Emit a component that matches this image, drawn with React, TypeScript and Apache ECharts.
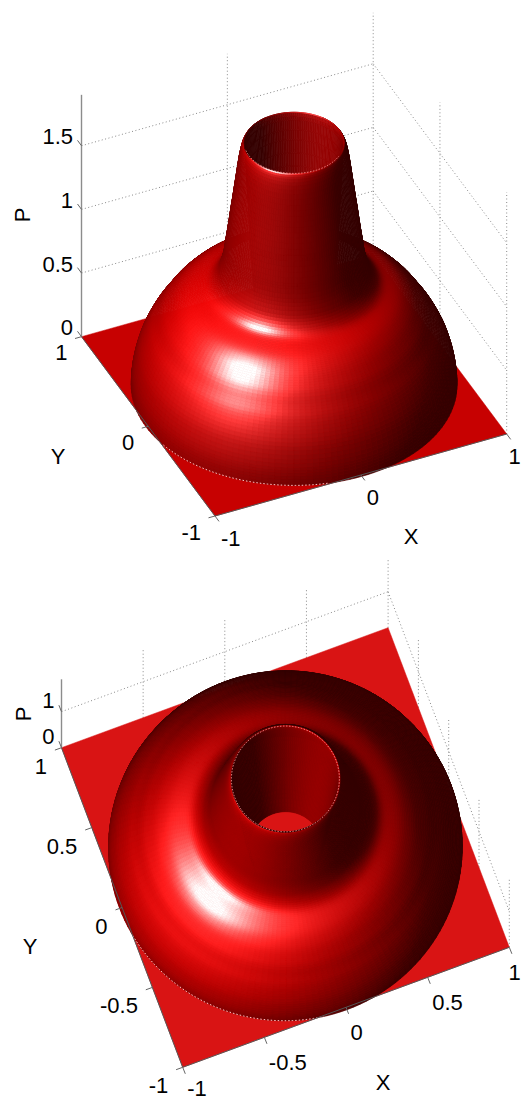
import React, { useEffect, useRef } from "react";
import * as echarts from "echarts";

// Radial profile of the surface: outer foot -> rim -> inner floor
const profileR = [1.015,1.014,1.01,1.005,0.995,0.98,0.965,0.945,0.925,0.905,0.885,0.865,0.845,0.82,0.8,0.78,0.76,0.74,0.72,0.7,0.68,0.66,0.64,0.62,0.6,0.58,0.56,0.54,0.52,0.5,0.48,0.465,0.45,0.44,0.43,0.426,0.415,0.405,0.395,0.384,0.375,0.365,0.355,0.345,0.335,0.325,0.315,0.31,0.305,0.297,0.288,0.278,0.268,0.258,0.247,0.237,0.227,0.215,0.21];
const profileZ = [0,0.05,0.095,0.135,0.19,0.25,0.3,0.35,0.395,0.435,0.47,0.5,0.535,0.575,0.6,0.625,0.648,0.67,0.688,0.705,0.72,0.733,0.744,0.754,0.763,0.772,0.781,0.793,0.81,0.835,0.87,0.91,0.97,1.02,1.09,1.13,1.21,1.29,1.375,1.456,1.53,1.61,1.69,1.77,1.83,1.875,1.9,1.905,1.85,1.7,1.5,1.3,1.1,0.9,0.7,0.5,0.3,0.1,0];

const topXTicks = [-1, 0, 1];
const topYTicks = [-1, 0, 1];
const topZTicks = [0, 0.5, 1, 1.5];
const bottomXTicks = [-1, -0.5, 0, 0.5, 1];
const bottomYTicks = [-1, -0.5, 0, 0.5, 1];
const bottomZTicks = [0, 1];
const axisNames = ["X", "Y", "P"];
const zTop = 1.9;

type V3 = [number, number, number];
interface View {
  front: [number, number]; right: [number, number]; left: [number, number];
  zUnit: number; az: number; el: number;
  xTicks: number[]; yTicks: number[]; zTicks: number[];
  xOff: [number, number]; yOff: [number, number]; zOff: [number, number];
  xName: [number, number]; yName: [number, number]; zName: [number, number];
  seam: [number, number]; seamRim: [number, number];
  tickX: [number, number]; tickY: [number, number]; tickZ: [number, number];
}

const views: View[] = [
  {
    front: [215, 516], right: [506.7, 434], left: [81.5, 336.7], zUnit: 127.3, az: -24.6, el: 38.8,
    xTicks: topXTicks, yTicks: topYTicks, zTicks: topZTicks,
    xOff: [6, 22.5], yOff: [-14, 16], zOff: [-8.5, -9],
    xName: [411, 536], yName: [58, 456], zName: [22, 215],
    seam: [192, 259], seamRim: [170, 310],
    tickX: [4, 5.4], tickY: [-6.5, 1.8], tickZ: [-4, -5.4],
  },
  {
    front: [182.7, 1067.3], right: [509.3, 947.3], left: [61.5, 747.7], zUnit: 36, az: -20.5, el: 77.6,
    xTicks: bottomXTicks, yTicks: bottomYTicks, zTicks: bottomZTicks,
    xOff: [4.5, 25], yOff: [-14.5, 18.5], zOff: [-7, -11.7],
    xName: [383, 1082], yName: [30, 946], zName: [23, 714],
    seam: [190, 262], seamRim: [0, 360],
    tickX: [2.6, 6.5], tickY: [-6.6, 2.4], tickZ: [-2.6, -6.5],
  },
];

const LIGHT: V3 = [-0.72, -0.2, 0.66];
const LIGHT2: V3 = [-0.42, -0.22, 0.88];
const STEPS = 160;
const SUB = 2;
const FONT = '22px "Liberation Sans", Arial, sans-serif';

const norm = (a: V3): V3 => {
  const l = Math.hypot(a[0], a[1], a[2]);
  return [a[0] / l, a[1] / l, a[2] / l];
};
const dot = (a: V3, b: V3) => a[0] * b[0] + a[1] * b[1] + a[2] * b[2];

function makeProjection(v: View) {
  const cx = (v.left[0] + v.right[0]) / 2;
  const cy = (v.left[1] + v.right[1]) / 2;
  const xu = [(v.right[0] - v.front[0]) / 2, (v.right[1] - v.front[1]) / 2];
  const yu = [(v.left[0] - v.front[0]) / 2, (v.left[1] - v.front[1]) / 2];
  const project = (x: number, y: number, z: number): [number, number] => [
    cx + x * xu[0] + y * yu[0],
    cy + x * xu[1] + y * yu[1] - z * v.zUnit,
  ];
  const a = (v.az * Math.PI) / 180;
  const e = (v.el * Math.PI) / 180;
  const cam: V3 = [Math.sin(a) * Math.cos(e), -Math.cos(a) * Math.cos(e), Math.sin(e)];
  return { project, cam };
}

function shade(n: V3, cam: V3): string {
  const L1 = norm(LIGHT);
  const L2 = norm(LIGHT2);
  const H = norm([L1[0] + cam[0], L1[1] + cam[1], L1[2] + cam[2]]);
  const d1 = Math.max(dot(n, L1), 0);
  const d2 = Math.max(dot(n, L2), 0);
  const nh = Math.max(dot(n, H), 0);
  const base = 52 + 75 * d1 + 120 * Math.pow(d2, 1.8);
  const spec = 215 * Math.pow(nh, 48) + 70 * Math.pow(nh, 10);
  const r = Math.min(255, Math.min(base, 232) + spec);
  const g = Math.min(255, spec);
  return `rgb(${Math.round(r)},${Math.round(g)},${Math.round(g)})`;
}

function surfaceElements(api: any, v: View) {
  const { project, cam } = makeProjection(v);
  const n = profileR.length;
  const ringN: [number, number][] = [];
  for (let i = 0; i < n; i++) {
    const a = Math.max(i - 1, 0);
    const b = Math.min(i + 1, n - 1);
    const dr = profileR[b] - profileR[a];
    const dz = profileZ[b] - profileZ[a];
    const l = Math.hypot(dr, dz) || 1;
    ringN.push([dz / l, -dr / l]);
  }
  const faces: { d: number; pts: number[][]; fill: string }[] = [];
  for (let i = 0; i < n - 1; i++) {
    for (let s = 0; s < SUB; s++) {
      const u0 = s / SUB;
      const u1 = (s + 1) / SUB;
      const um = (u0 + u1) / 2;
      const rAt = (u: number) => profileR[i] + (profileR[i + 1] - profileR[i]) * u;
      const zAt = (u: number) => profileZ[i] + (profileZ[i + 1] - profileZ[i]) * u;
      const nr = ringN[i][0] + (ringN[i + 1][0] - ringN[i][0]) * um;
      const nz = ringN[i][1] + (ringN[i + 1][1] - ringN[i][1]) * um;
      for (let j = 0; j < STEPS; j++) {
        const t0 = (j / STEPS) * 2 * Math.PI;
        const t1 = ((j + 1) / STEPS) * 2 * Math.PI;
        const tm = (t0 + t1) / 2;
        const normal = norm([nr * Math.cos(tm), nr * Math.sin(tm), nz]);
        if (dot(normal, cam) < -0.06) continue;
        const rm = rAt(um);
        const d = rm * Math.cos(tm) * cam[0] + rm * Math.sin(tm) * cam[1] + zAt(um) * cam[2];
        const P = (u: number, t: number) =>
          api.coord(project(rAt(u) * Math.cos(t), rAt(u) * Math.sin(t), zAt(u)));
        faces.push({ d, pts: [P(u0, t0), P(u0, t1), P(u1, t1), P(u1, t0)], fill: shade(normal, cam) });
      }
    }
  }
  faces.sort((a, b) => a.d - b.d);
  return faces.map((f) => ({
    type: "polygon",
    shape: { points: f.pts },
    style: { fill: f.fill, stroke: f.fill, lineWidth: 0.7 },
  }));
}

function line(api: any, a: [number, number], b: [number, number], style: any) {
  const p = api.coord(a);
  const q = api.coord(b);
  return { type: "line", shape: { x1: p[0], y1: p[1], x2: q[0], y2: q[1] }, style };
}

function gridElements(api: any, v: View) {
  const { project } = makeProjection(v);
  const s = { stroke: "#8a8a8a", lineWidth: 1, lineDash: [1, 2.5] };
  const out: any[] = [];
  v.zTicks.filter((z) => z > 0).forEach((z) => {
    out.push(line(api, project(-1, 1, z), project(1, 1, z), s));
    out.push(line(api, project(1, 1, z), project(1, -1, z), s));
  });
  v.xTicks.filter((x) => x > -1).forEach((x) => {
    out.push(line(api, project(x, 1, 0), project(x, 1, zTop), s));
  });
  v.yTicks.filter((y) => y < 1).forEach((y) => {
    out.push(line(api, project(1, y, 0), project(1, y, zTop), s));
  });
  return out;
}

function plateElements(api: any, v: View) {
  const { project, cam } = makeProjection(v);
  const fill = shade([0, 0, 1], cam);
  const pts = [project(-1, -1, 0), project(1, -1, 0), project(1, 1, 0), project(-1, 1, 0)].map((p) => api.coord(p));
  return [{ type: "polygon", shape: { points: pts }, style: { fill, stroke: fill, lineWidth: 0.5 } }];
}

function arcPoints(api: any, v: View, r: number, z: number, range: [number, number]) {
  const { project } = makeProjection(v);
  const pts: number[][] = [];
  for (let a = range[0]; a <= range[1]; a += 2) {
    const t = (a * Math.PI) / 180;
    pts.push(api.coord(project(r * Math.cos(t), r * Math.sin(t), z)));
  }
  return pts;
}

function axisElements(api: any, v: View) {
  const { project } = makeProjection(v);
  const rim = profileZ.indexOf(Math.max(...profileZ));
  const edge = { stroke: "#555555", lineWidth: 1 };
  const tick = { stroke: "#666666", lineWidth: 1 };
  const out: any[] = [
    {
      type: "polyline",
      shape: { points: arcPoints(api, v, profileR[0], 0, v.seam) },
      style: { fill: "none", stroke: "#ffc4c4", lineWidth: 1, lineDash: [1.5, 2] },
    },
    {
      type: "polyline",
      shape: { points: arcPoints(api, v, profileR[rim], profileZ[rim], v.seamRim) },
      style: { fill: "none", stroke: "#ff9c9c", lineWidth: 0.8, lineDash: [1.5, 1.5] },
    },
    line(api, project(-1, 1, 0), project(-1, 1, zTop), { stroke: "#8c8c8c", lineWidth: 1.4 }),
    line(api, project(-1, -1, 0), project(1, -1, 0), edge),
    line(api, project(-1, 1, 0), project(-1, -1, 0), edge),
  ];
  const shift = (p: [number, number], d: [number, number]): [number, number] => [p[0] + d[0], p[1] + d[1]];
  v.xTicks.forEach((x) => out.push(line(api, project(x, -1, 0), shift(project(x, -1, 0), v.tickX), tick)));
  v.yTicks.forEach((y) => out.push(line(api, project(-1, y, 0), shift(project(-1, y, 0), v.tickY), tick)));
  v.zTicks.forEach((z) => out.push(line(api, project(-1, 1, z), shift(project(-1, 1, z), v.tickZ), tick)));
  return out;
}

function textElements(api: any, v: View) {
  const { project } = makeProjection(v);
  const t = (text: string, p: [number, number], align: string, rotation = 0) => {
    const c = api.coord(p);
    return {
      type: "text",
      x: c[0],
      y: c[1],
      rotation,
      style: { text, fill: "#000000", font: FONT, textAlign: align, textVerticalAlign: "middle" },
    };
  };
  const out: any[] = [];
  const at = (p: [number, number], o: [number, number]): [number, number] => [p[0] + o[0], p[1] + o[1]];
  v.xTicks.forEach((x) => {
    const p = at(project(x, -1, 0), v.xOff);
    // labels that would run past the page edges are kept whole against those edges
    out.push(t(String(x), [Math.min(p[0], 508.5), Math.min(p[1], 1088)], "left"));
  });
  v.yTicks.forEach((y) => out.push(t(String(y), at(project(-1, y, 0), v.yOff), "right")));
  v.zTicks.forEach((z) => out.push(t(String(z), at(project(-1, 1, z), v.zOff), "right")));
  out.push(t(axisNames[0], v.xName, "center"));
  out.push(t(axisNames[1], v.yName, "center"));
  out.push(t(axisNames[2], v.zName, "center", Math.PI / 2));
  return out;
}

function layer(v: View, z: number, build: (api: any, v: View) => any[]) {
  return {
    type: "custom",
    coordinateSystem: "cartesian2d",
    silent: true,
    z,
    clip: false,
    data: [[0, 0]],
    progressive: 0,
    renderItem: (_: any, api: any) => ({ type: "group", children: build(api, v) }),
  };
}

export default function App() {
  const ref = useRef<HTMLDivElement>(null);
  useEffect(() => {
    const chart = echarts.init(ref.current!, undefined, { renderer: "svg" });
    const series: any[] = [];
    views.forEach((v) => {
      series.push(layer(v, 1, gridElements));
      series.push(layer(v, 2, plateElements));
      series.push(layer(v, 3, surfaceElements));
      series.push(layer(v, 4, axisElements));
      series.push(layer(v, 5, textElements));
    });
    chart.setOption({
      animation: false,
      backgroundColor: "#ffffff",
      grid: { left: 0, right: 0, top: 0, bottom: 0 },
      xAxis: { type: "value", min: 0, max: 521, show: false },
      yAxis: { type: "value", min: 0, max: 1100, inverse: true, show: false },
      series,
    });
    return () => chart.dispose();
  }, []);
  return <div ref={ref} style={{ position: "absolute", left: 0, top: 0, width: 521, height: 1100 }} />;
}
